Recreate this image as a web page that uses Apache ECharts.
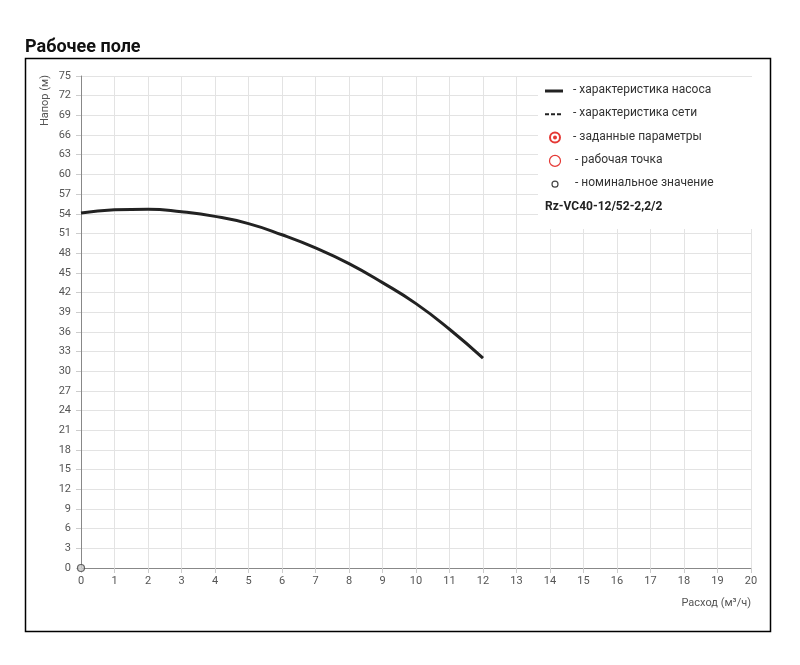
<!DOCTYPE html>
<html>
<head>
<meta charset="utf-8">
<script src="https://cdn.jsdelivr.net/npm/echarts@6/dist/echarts.min.js"></script>
<style>
body { margin: 0; background: #fff; }
#chart { width: 800px; height: 665px; }
</style>
</head>
<body>
<div id="chart"></div>
<script>
// данные характеристики насоса
const flow = [0, 1, 2, 3, 4, 5, 6, 7, 8, 9, 10, 11, 12];
const head = [54.1, 54.6, 54.7, 54.3, 53.6, 52.5, 50.8, 48.8, 46.4, 43.5, 40.3, 36.4, 32.0];
const nominal = [[0, 0]];
const legendItems = [
    '- характеристика насоса',
    '- характеристика сети',
    '- заданные параметры',
    '- рабочая точка',
    '- номинальное значение'
];
const model = 'Rz-VC40-12/52-2,2/2';

const font = 'Roboto, "Noto Sans", sans-serif';
const legendX = 545;
const legendY = 91;
const step = 23.3;

const graphic = [
    { type: 'rect', shape: { x: 25.5, y: 58.5, width: 745, height: 573 }, style: { fill: 'none', stroke: '#000', lineWidth: 1.5 }, z: 0 },
    { type: 'text', left: 25, top: 38, style: { text: 'Рабочее поле', font: 'bold 18px ' + font, fill: '#111' } },
    { type: 'text', x: 45, y: 75, rotation: Math.PI / 2, style: { text: 'Напор (м)', font: '11px ' + font, fill: '#555', align: 'right', verticalAlign: 'middle' } },
    { type: 'rect', shape: { x: 538, y: 77, width: 214, height: 152 }, style: { fill: '#fff' }, z: 10 },
    { type: 'line', shape: { x1: legendX, y1: legendY, x2: legendX + 18, y2: legendY }, style: { stroke: '#222', lineWidth: 3 }, z: 11 },
    { type: 'line', shape: { x1: legendX, y1: legendY + step, x2: legendX + 18, y2: legendY + step }, style: { stroke: '#222', lineWidth: 2, lineDash: [4, 2] }, z: 11 },
    { type: 'circle', shape: { cx: legendX + 10, cy: legendY + step * 2, r: 5 }, style: { fill: '#fff', stroke: '#e53935', lineWidth: 2 }, z: 11 },
    { type: 'circle', shape: { cx: legendX + 10, cy: legendY + step * 2, r: 2 }, style: { fill: '#e53935' }, z: 11 },
    { type: 'circle', shape: { cx: legendX + 10, cy: legendY + step * 3, r: 5.5 }, style: { fill: 'none', stroke: '#e53935', lineWidth: 1.2 }, z: 11 },
    { type: 'circle', shape: { cx: legendX + 10, cy: legendY + step * 4, r: 3 }, style: { fill: 'none', stroke: '#444', lineWidth: 1.2 }, z: 11 },
    { type: 'text', left: 545, top: legendY + step * 5 - 7, style: { text: model, font: 'bold 12px ' + font, fill: '#222' }, z: 11 }
];
legendItems.forEach((t, i) => {
    graphic.push({
        type: 'text', left: legendX + 28 + (i >= 3 ? 2 : 0), top: legendY + step * i - 7,
        style: { text: t, font: '12px ' + font, fill: '#333' }, z: 11
    });
});

const option = {
    animation: false,
    textStyle: { fontFamily: font },
    grid: { left: 81, right: 49, top: 76, bottom: 97 },
    xAxis: {
        type: 'value', min: 0, max: 20, interval: 1,
        name: 'Расход (м³/ч)', nameLocation: 'end', nameGap: 0,
        nameTextStyle: { color: '#555', fontSize: 11, align: 'right', verticalAlign: 'top', padding: [30, 0, 0, 0] },
        axisLine: { show: true, lineStyle: { color: '#888' } },
        axisTick: { show: true, length: 5, lineStyle: { color: '#ccc' } },
        axisLabel: { color: '#555', fontSize: 11 },
        splitLine: { show: true, lineStyle: { color: '#e3e3e3' } }
    },
    yAxis: {
        type: 'value', min: 0, max: 75, interval: 3,
        axisLine: { show: true, lineStyle: { color: '#888' } },
        axisTick: { show: true, length: 5, lineStyle: { color: '#ccc' } },
        axisLabel: { color: '#555', fontSize: 11, margin: 10 },
        splitLine: { show: true, lineStyle: { color: '#e3e3e3' } }
    },
    graphic: graphic,
    series: [
        {
            type: 'line', smooth: 0.5, showSymbol: false,
            data: flow.map((q, i) => [q, head[i]]),
            lineStyle: { color: '#222', width: 3 }
        },
        {
            type: 'scatter', data: nominal, symbol: 'circle', symbolSize: 7,
            itemStyle: { color: '#ccc', borderColor: '#444', borderWidth: 1.2 }
        }
    ]
};

const chart = echarts.init(document.getElementById('chart'));
chart.setOption(option);
</script>
</body>
</html>
